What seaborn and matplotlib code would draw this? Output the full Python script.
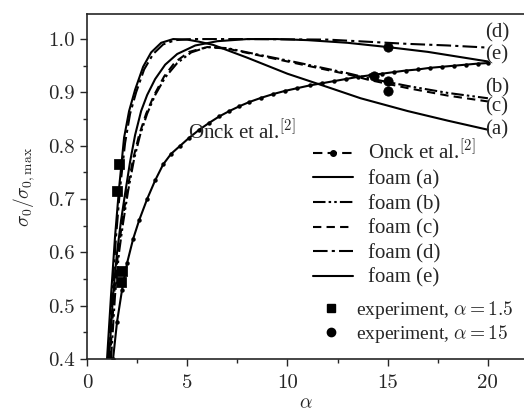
import matplotlib
matplotlib.use("Agg")
import matplotlib.pyplot as plt
from matplotlib.lines import Line2D
from matplotlib.ticker import MultipleLocator
import seaborn as sns

# Onck et al. reference curve
onck_x = [1.3, 1.5, 1.75, 2.0, 2.3, 2.6, 3.0, 3.4, 3.8, 4.2, 4.65, 5.1, 5.6, 6.1, 6.6, 7.1,
          7.6, 8.1, 8.7, 9.3, 9.9, 10.5, 11.1, 11.7, 12.3, 12.9, 13.5, 14.1, 14.7, 15.3,
          15.9, 16.5, 17.1, 17.7, 18.3, 18.9, 19.5, 20.0]
onck_y = [0.40, 0.47, 0.53, 0.58, 0.625, 0.66, 0.70, 0.735, 0.765, 0.785, 0.800, 0.815,
          0.830, 0.843, 0.855, 0.865, 0.874, 0.882, 0.890, 0.897, 0.903, 0.908, 0.913,
          0.917, 0.921, 0.925, 0.929, 0.932, 0.935, 0.938, 0.941, 0.943, 0.946, 0.948,
          0.950, 0.952, 0.954, 0.955]

# foam curves
a_x = [1.0, 1.2, 1.4, 1.6, 1.85, 2.1, 2.4, 2.8, 3.2, 3.7, 4.3, 5.0, 5.6, 6.3, 8.0, 10.0, 12.0, 13.65, 16.0, 18.0, 20.0]
a_y = [0.40, 0.52, 0.63, 0.72, 0.815, 0.865, 0.905, 0.948, 0.975, 0.993, 1.0, 0.999, 0.995, 0.989, 0.965, 0.935, 0.910, 0.889, 0.865, 0.847, 0.830]

b_x = [1.2, 1.4, 1.6, 1.8, 2.05, 2.35, 2.65, 3.0, 3.4, 3.9, 4.5, 5.2, 6.0, 7.0, 8.0, 10.5, 13.0, 14.0, 16.0, 18.0, 20.0]
b_y = [0.40, 0.52, 0.60, 0.655, 0.715, 0.775, 0.82, 0.86, 0.895, 0.928, 0.955, 0.975, 0.985, 0.983, 0.975, 0.956, 0.936, 0.927, 0.912, 0.899, 0.889]

c_x = [1.15, 1.35, 1.55, 1.75, 2.0, 2.3, 2.6, 2.95, 3.35, 3.85, 4.4, 5.1, 6.0, 7.0, 8.0, 10.5, 13.0, 14.0, 16.0, 18.0, 20.0]
c_y = [0.40, 0.52, 0.60, 0.655, 0.715, 0.775, 0.82, 0.86, 0.895, 0.93, 0.957, 0.976, 0.985, 0.982, 0.974, 0.954, 0.934, 0.924, 0.908, 0.894, 0.883]

d_x = [1.05, 1.25, 1.45, 1.65, 1.9, 2.15, 2.45, 2.85, 3.3, 3.8, 4.4, 5.2, 8.0, 12.0, 14.0, 16.0, 18.0, 20.0]
d_y = [0.40, 0.52, 0.63, 0.72, 0.805, 0.86, 0.90, 0.943, 0.972, 0.99, 0.998, 1.0, 1.0, 0.999, 0.995, 0.991, 0.988, 0.984]

e_x = [1.1, 1.3, 1.5, 1.7, 1.9, 2.15, 2.4, 2.7, 3.0, 3.4, 3.9, 4.5, 5.4, 6.5, 8.0, 9.5, 11.0, 13.0, 15.0, 17.0, 19.0, 20.0]
e_y = [0.40, 0.52, 0.60, 0.66, 0.71, 0.77, 0.82, 0.865, 0.895, 0.925, 0.952, 0.972, 0.988, 0.996, 1.0, 1.0, 0.998, 0.993, 0.985, 0.976, 0.964, 0.958]

# experiments
exp15_x = [1.6, 1.5, 1.75, 1.7]
exp15_y = [0.765, 0.715, 0.565, 0.545]
exp150_x = [15.0, 15.0, 15.0, 14.3]
exp150_y = [0.985, 0.922, 0.903, 0.930]

curve_labels = ['(a)', '(b)', '(c)', '(d)', '(e)']
label_y = [0.829, 0.908, 0.872, 1.011, 0.970]

sns.set_style("ticks")
plt.rcParams['font.family'] = ['Liberation Serif', 'DejaVu Serif']
plt.rcParams['mathtext.fontset'] = 'cm'

fig = plt.figure(figsize=(5.24, 4.18), dpi=100)
ax = fig.add_axes([0.166, 0.141, 0.834, 0.8255])

k = dict(ax=ax, color='black', linewidth=1.5, legend=False)
sns.lineplot(x=onck_x, y=onck_y, marker='o', markersize=3.2, markeredgewidth=0, **k)
sns.lineplot(x=a_x, y=a_y, linestyle='-', **k)
sns.lineplot(x=b_x, y=b_y, linestyle=(0, (6, 1.5, 1.2, 1.5, 1.2, 1.5)), **k)
sns.lineplot(x=c_x, y=c_y, linestyle=(0, (4, 2.5)), **k)
sns.lineplot(x=d_x, y=d_y, linestyle=(0, (7, 2, 1.5, 2)), **k)
sns.lineplot(x=e_x, y=e_y, linestyle='-', **k)

sns.scatterplot(x=exp15_x, y=exp15_y, marker='s', s=45, color='black', edgecolor='black', ax=ax, legend=False)
sns.scatterplot(x=exp150_x, y=exp150_y, marker='o', s=45, color='black', edgecolor='black', ax=ax, legend=False)

for lab, yy in zip(curve_labels, label_y):
    ax.text(19.85, yy, lab, fontsize=15, va='center', ha='left')

ax.text(5.05, 0.826, 'Onck et al.$^{[2]}$', fontsize=15, va='center', ha='left')

ax.set_xlim(0, 21.8)
ax.set_ylim(0.4, 1.047)
ax.xaxis.set_minor_locator(MultipleLocator(2.5))
ax.yaxis.set_minor_locator(MultipleLocator(0.05))
ax.tick_params(which='major', length=5, width=1, labelsize=15)
ax.tick_params(axis='x', which='major', pad=6)
ax.tick_params(which='minor', length=3, width=1)
ax.set_yticks([0.4, 0.5, 0.6, 0.7, 0.8, 0.9, 1.0])
ax.set_yticklabels(['0.4', '0.5', '0.6', '0.7', '0.8', '0.9', '1.0'])
ax.set_xticks([0, 5, 10, 15, 20])
ax.set_xticklabels(['0', '5', '10', '15', '20'])
for t in ax.get_xticklabels() + ax.get_yticklabels():
    t.set_fontfamily('cmr10')
ax.spines['right'].set_visible(False)
for s in ['left', 'bottom', 'top']:
    ax.spines[s].set_linewidth(1.2)

ax.set_xlabel(r'$\alpha$', fontsize=14, labelpad=2)
ax.set_ylabel(r'$\sigma_0/\sigma_{0,\mathrm{max}}$', fontsize=14, labelpad=8)

line_handles = [
    Line2D([], [], color='black', lw=1.5, marker='o', markersize=4, markevery=[1],
           linestyle=(0, (4.5, 2.5))),
    Line2D([], [], color='black', lw=1.5, linestyle='-'),
    Line2D([], [], color='black', lw=1.5, linestyle=(0, (6, 1.5, 1.2, 1.5, 1.2, 1.5))),
    Line2D([], [], color='black', lw=1.5, linestyle=(0, (4, 2.5))),
    Line2D([], [], color='black', lw=1.5, linestyle=(0, (7, 2, 1.5, 2))),
    Line2D([], [], color='black', lw=1.5, linestyle='-'),
]
line_labels = ['Onck et al.$^{[2]}$', 'foam (a)', 'foam (b)', 'foam (c)', 'foam (d)', 'foam (e)']
leg1 = ax.legend(line_handles, line_labels, loc='upper left', bbox_to_anchor=(0.517, 0.635),
                 frameon=False, fontsize=15, handlelength=1.9, handletextpad=0.75,
                 labelspacing=0.24, borderpad=0, borderaxespad=0)
ax.add_artist(leg1)

marker_handles = [
    Line2D([], [], color='black', marker='s', linestyle='none', markersize=6),
    Line2D([], [], color='black', marker='o', linestyle='none', markersize=6),
]
marker_labels = [r'experiment, $\alpha=1.5$', r'experiment, $\alpha=15$']
ax.legend(marker_handles, marker_labels, loc='upper left', bbox_to_anchor=(0.533, 0.175),
          frameon=False, fontsize=14, handlelength=1.1, handletextpad=0.75,
          labelspacing=0.12, borderpad=0, borderaxespad=0)

fig.savefig('out.png', dpi=100)
